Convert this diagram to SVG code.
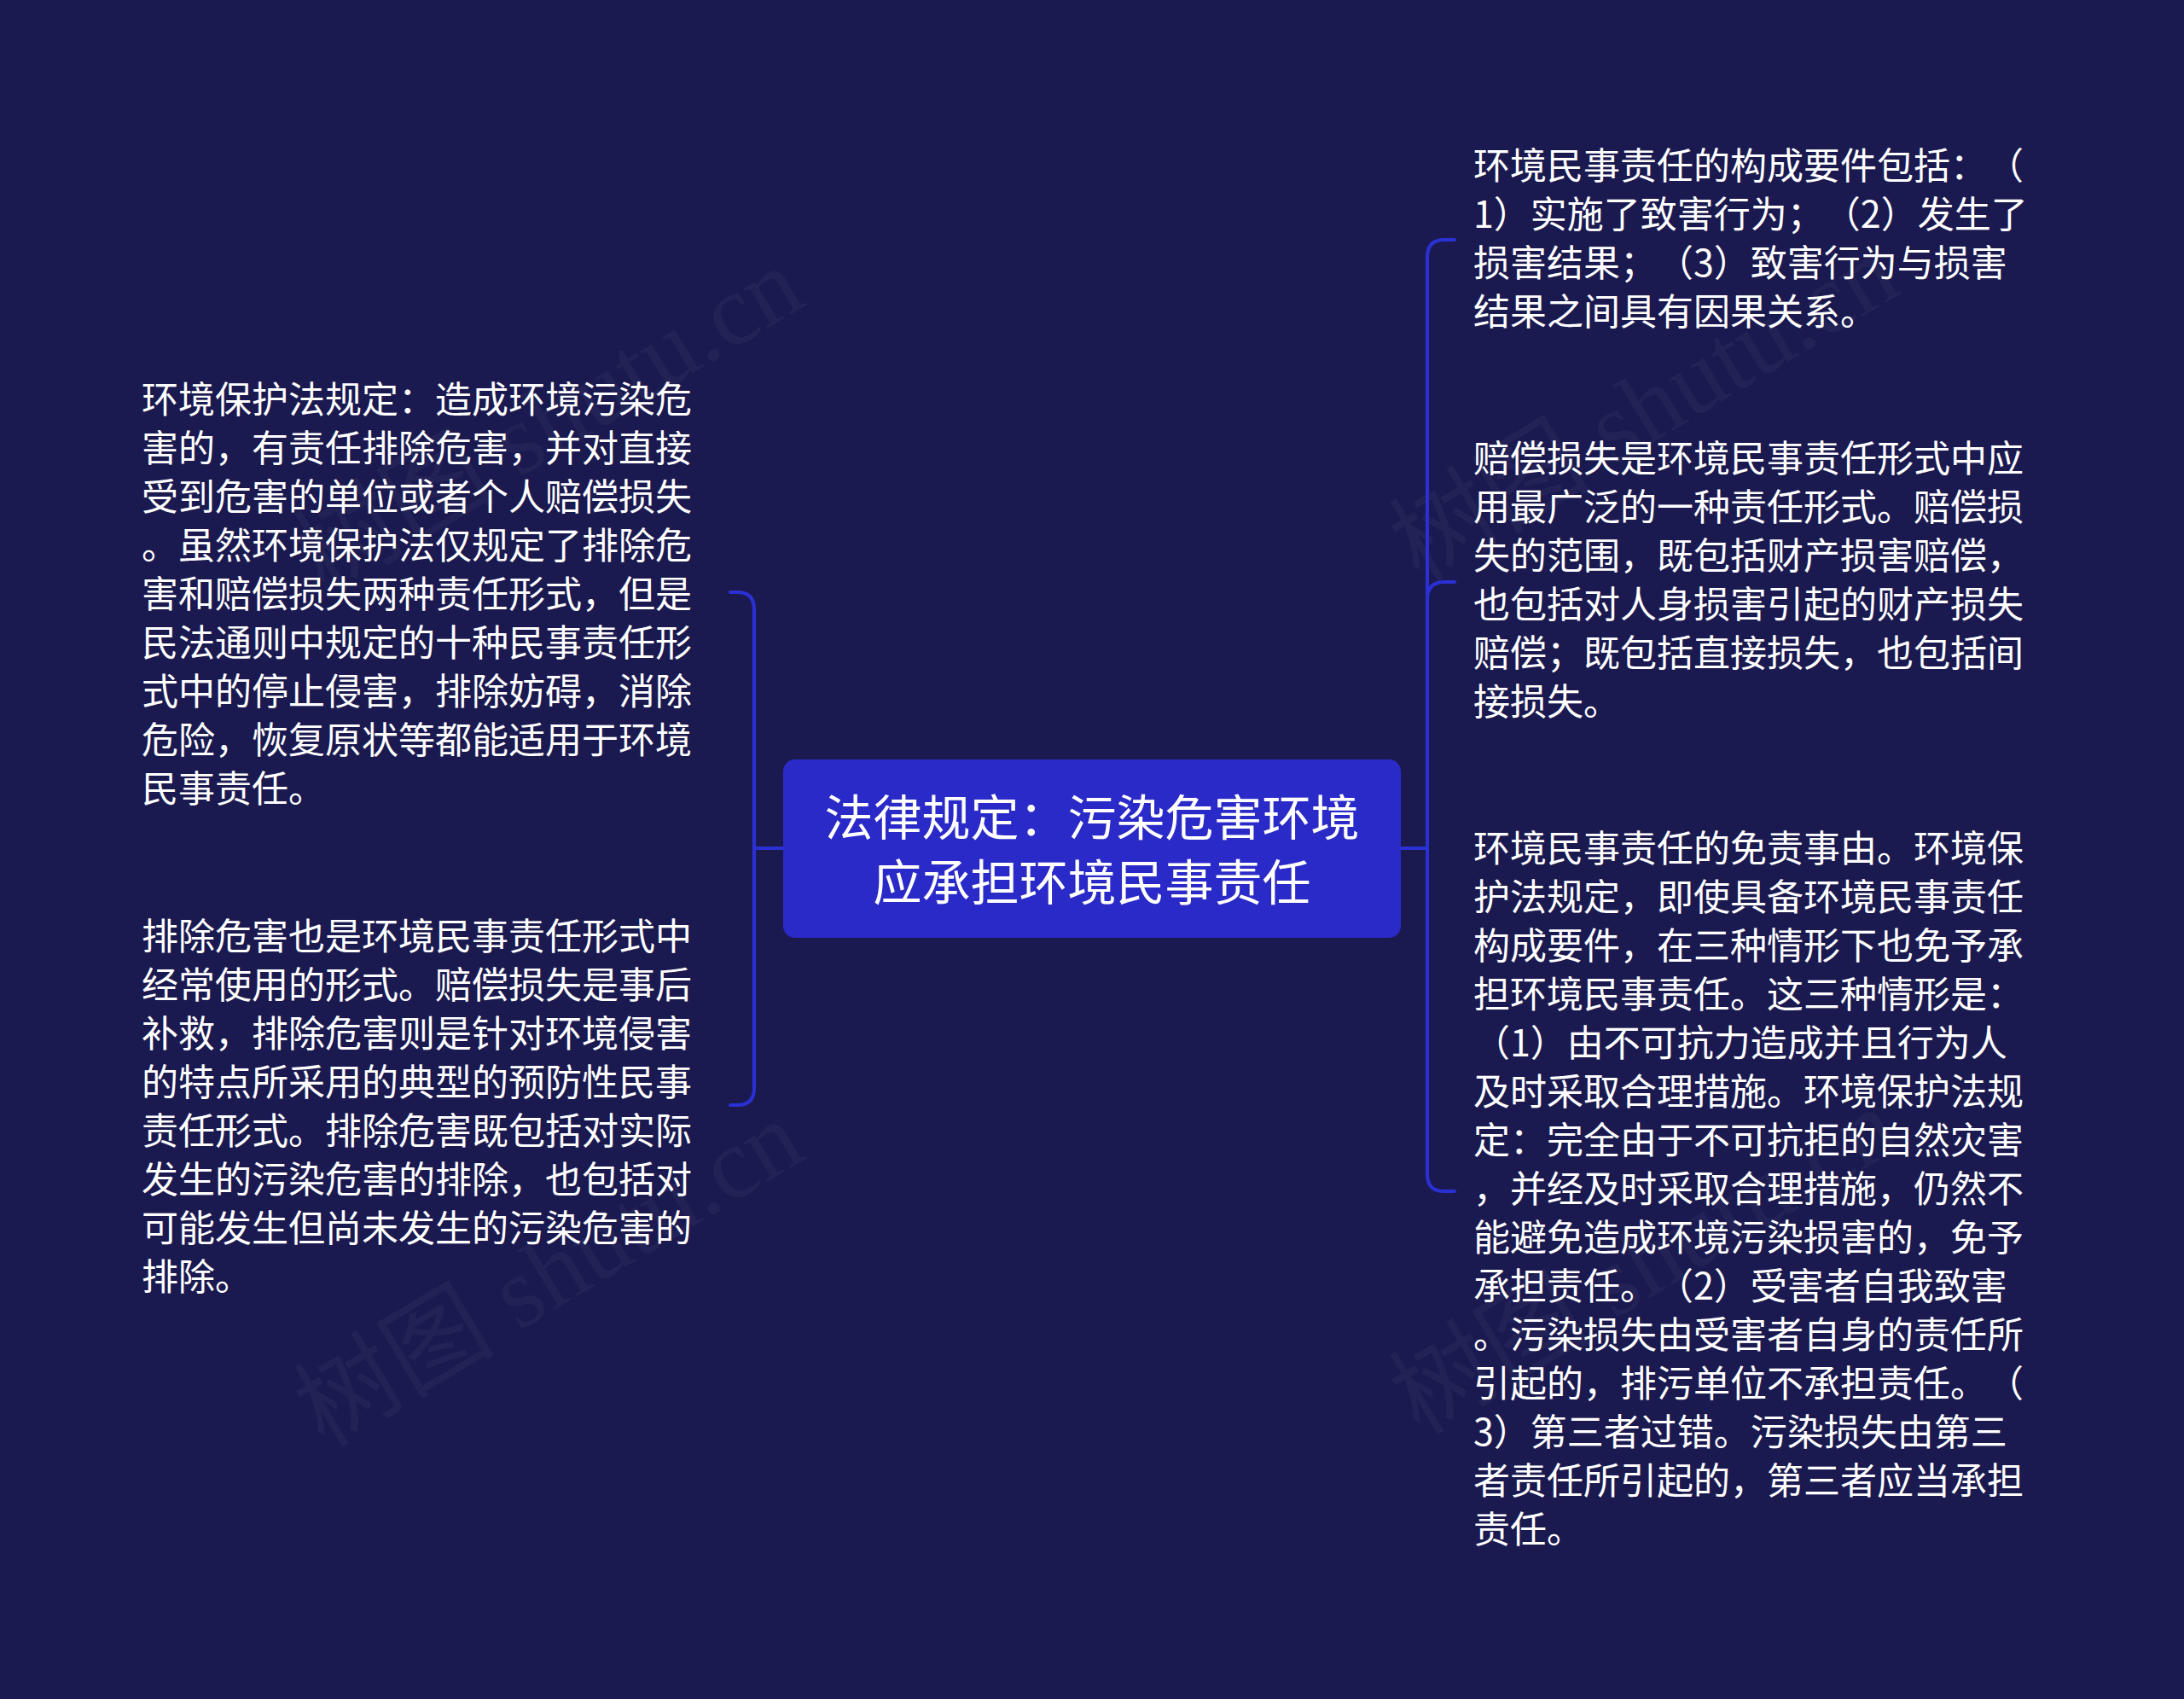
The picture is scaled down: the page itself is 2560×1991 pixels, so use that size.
<svg xmlns="http://www.w3.org/2000/svg" width="2560" height="1991" viewBox="0 0 2560 1991">
<style>
.bg{fill:#1b1a50}
.root{fill:#2a2ac8}
.rt{fill:#ffffff;font-family:"Noto Sans CJK SC","Noto Sans",sans-serif;font-size:57px;text-anchor:middle}
.t{fill:#ffffff;font-family:"Noto Sans CJK SC","Noto Sans",sans-serif;font-size:43px;text-spacing-trim:space-all}
.c{fill:none;stroke:#2b30d4;stroke-width:4;stroke-linecap:round}
.wm{fill:#ffffff;fill-opacity:0.04;font-family:"Liberation Serif","Noto Sans CJK SC",serif;font-size:118px}
</style>
<rect class="bg" x="0" y="0" width="2560" height="1991"/>
<g id="watermarks">
<text class="wm" transform="translate(380 697) rotate(-31)">树图 shutu.cn</text>
<text class="wm" transform="translate(380 1697) rotate(-31)">树图 shutu.cn</text>
<text class="wm" transform="translate(1664 683) rotate(-31)">树图 shutu.cn</text>
<text class="wm" transform="translate(1664 1683) rotate(-31)">树图 shutu.cn</text>
</g>
<g id="connectors">
<path class="c" d="M918 994 H884"/>
<path class="c" d="M884 994 V714 Q884 694 864 694 H856"/>
<path class="c" d="M884 994 V1275 Q884 1295 864 1295 H856"/>
<path class="c" d="M1642 994 H1673"/>
<path class="c" d="M1673 994 V301 Q1673 281 1693 281 H1705"/>
<path class="c" d="M1673 994 V702 Q1673 682 1693 682 H1705"/>
<path class="c" d="M1673 994 V1376 Q1673 1396 1693 1396 H1705"/>
</g>
<g id="root">
<rect class="root" x="918" y="890" width="724" height="209" rx="14"/>
<text class="rt" x="1280" y="979">法律规定：污染危害环境</text>
<text class="rt" x="1280" y="1055">应承担环境民事责任</text>
</g>
<g id="left1">
<text class="t" x="166" y="484">环境保护法规定：造成环境污染危</text>
<text class="t" x="166" y="541">害的，有责任排除危害，并对直接</text>
<text class="t" x="166" y="598">受到危害的单位或者个人赔偿损失</text>
<text class="t" x="166" y="655">。虽然环境保护法仅规定了排除危</text>
<text class="t" x="166" y="712">害和赔偿损失两种责任形式，但是</text>
<text class="t" x="166" y="769">民法通则中规定的十种民事责任形</text>
<text class="t" x="166" y="826">式中的停止侵害，排除妨碍，消除</text>
<text class="t" x="166" y="883">危险，恢复原状等都能适用于环境</text>
<text class="t" x="166" y="940">民事责任。</text>
</g>
<g id="left2">
<text class="t" x="166" y="1113">排除危害也是环境民事责任形式中</text>
<text class="t" x="166" y="1170">经常使用的形式。赔偿损失是事后</text>
<text class="t" x="166" y="1227">补救，排除危害则是针对环境侵害</text>
<text class="t" x="166" y="1284">的特点所采用的典型的预防性民事</text>
<text class="t" x="166" y="1341">责任形式。排除危害既包括对实际</text>
<text class="t" x="166" y="1398">发生的污染危害的排除，也包括对</text>
<text class="t" x="166" y="1455">可能发生但尚未发生的污染危害的</text>
<text class="t" x="166" y="1512">排除。</text>
</g>
<g id="right1">
<text class="t" x="1727" y="210">环境民事责任的构成要件包括：（</text>
<text class="t" x="1727" y="267">1）实施了致害行为；（2）发生了</text>
<text class="t" x="1727" y="324">损害结果；（3）致害行为与损害</text>
<text class="t" x="1727" y="381">结果之间具有因果关系。</text>
</g>
<g id="right2">
<text class="t" x="1727" y="553">赔偿损失是环境民事责任形式中应</text>
<text class="t" x="1727" y="610">用最广泛的一种责任形式。赔偿损</text>
<text class="t" x="1727" y="667">失的范围，既包括财产损害赔偿，</text>
<text class="t" x="1727" y="724">也包括对人身损害引起的财产损失</text>
<text class="t" x="1727" y="781">赔偿；既包括直接损失，也包括间</text>
<text class="t" x="1727" y="838">接损失。</text>
</g>
<g id="right3">
<text class="t" x="1727" y="1010">环境民事责任的免责事由。环境保</text>
<text class="t" x="1727" y="1067">护法规定，即使具备环境民事责任</text>
<text class="t" x="1727" y="1124">构成要件，在三种情形下也免予承</text>
<text class="t" x="1727" y="1181">担环境民事责任。这三种情形是：</text>
<text class="t" x="1727" y="1238">（1）由不可抗力造成并且行为人</text>
<text class="t" x="1727" y="1295">及时采取合理措施。环境保护法规</text>
<text class="t" x="1727" y="1352">定：完全由于不可抗拒的自然灾害</text>
<text class="t" x="1727" y="1409">，并经及时采取合理措施，仍然不</text>
<text class="t" x="1727" y="1466">能避免造成环境污染损害的，免予</text>
<text class="t" x="1727" y="1523">承担责任。（2）受害者自我致害</text>
<text class="t" x="1727" y="1580">。污染损失由受害者自身的责任所</text>
<text class="t" x="1727" y="1637">引起的，排污单位不承担责任。（</text>
<text class="t" x="1727" y="1694">3）第三者过错。污染损失由第三</text>
<text class="t" x="1727" y="1751">者责任所引起的，第三者应当承担</text>
<text class="t" x="1727" y="1808">责任。</text>
</g>
</svg>
